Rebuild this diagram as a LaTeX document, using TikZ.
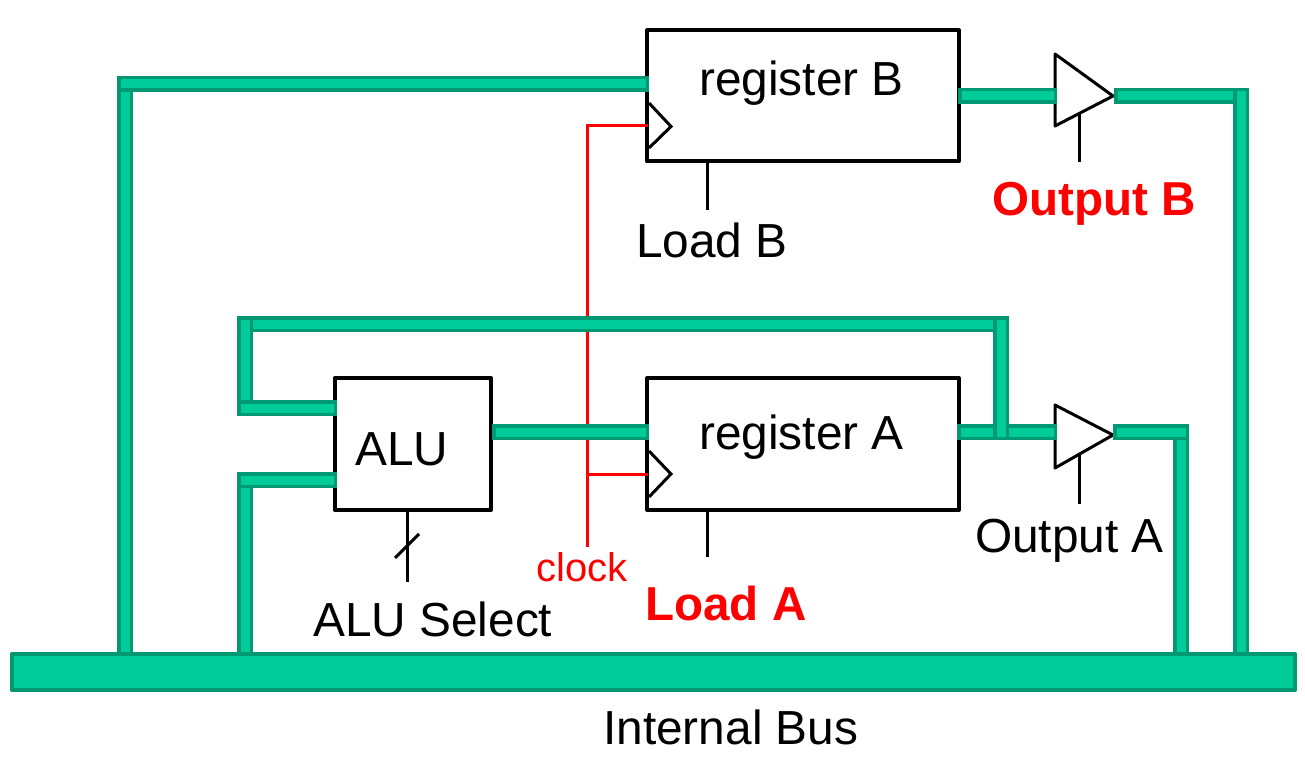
\documentclass[tikz,border=0pt]{standalone}
\usepackage{fontspec}
\setmainfont{Liberation Sans}
\definecolor{wirefill}{HTML}{00CC99}
\definecolor{wireedge}{HTML}{009973}
\definecolor{sigred}{HTML}{FF0000}
\tikzset{
  block/.style={draw=black,fill=white,line width=4pt,line join=round,inner sep=0pt,minimum width=#1},
  wire/.style={draw=wireedge,line width=3.5pt,double=wirefill,double distance=9pt,line cap=rect,line join=miter},
  busbar/.style={draw=wireedge,fill=wirefill,line width=4pt,line join=round,inner sep=0pt,minimum width=1283.5pt,minimum height=36pt},
  ctl/.style={draw=black,line width=3pt},
  clk/.style={draw=sigred,line width=3pt},
  buffershape/.style={draw=black,fill=white,line width=3pt,line join=round},
  clocktri/.style={draw=black,line width=3pt,line join=miter},
  big/.style={inner sep=0pt,anchor=base west,font=\fontsize{47.8}{50}\selectfont},
  bigred/.style={inner sep=0pt,anchor=base west,text=sigred,font=\fontsize{47.6}{50}\selectfont\bfseries},
  small/.style={inner sep=0pt,anchor=base west,text=sigred,font=\fontsize{40}{44}\selectfont}
}
\begin{document}
\begin{tikzpicture}[x=1pt,y=-1pt]
\useasboundingbox (0,0) rectangle (1305,767);
% blocks
\node[block=312pt,minimum height=131pt] (regB) at (803,96) {};
\node[block=312pt,minimum height=132pt] (regA) at (803,444) {};
\node[block=156.5pt,minimum height=132pt] (alu) at (412.75,444) {};
% labels
\node[big] (tRegB) at (699,96) {register B};
\node[big] (tRegA) at (699,449) {register A};
\node[big] (tAlu) at (355,465) {ALU};
\node[big] (tLoadB) at (636,257) {Load B};
\node[big] (tOutA) at (975,552) {Output A};
\node[big] (tSel) at (313,636) {ALU Select};
\node[big] (tBus) at (603,744) {Internal Bus};
\node[bigred] (tOutB) at (992,216) {Output B};
\node[bigred] (tLoadA) at (645,620) {Load A};
\node[small] (tClock) at (536,581) {clock};
% named points
\coordinate (triBa) at (1055,54);
\coordinate (triBb) at (1113,96);
\coordinate (triBc) at (1055,126);
\coordinate (triAa) at (1055,405);
\coordinate (triAb) at (1113,435);
\coordinate (triAc) at (1055,468);
\coordinate (ckBa) at (649,103);
\coordinate (ckBb) at (671,126.5);
\coordinate (ckBc) at (649,148);
\coordinate (ckAa) at (649,451);
\coordinate (ckAb) at (671,474);
\coordinate (ckAc) at (649,497);
\coordinate (clkTop) at (587,126);
\coordinate (clkTap) at (587,474);
\coordinate (clkEnd) at (587,547);
\coordinate (ckBin) at (648,126);
\coordinate (ckAin) at (648,474);
\coordinate (lbA) at (707,163);
\coordinate (lbB) at (707,210);
\coordinate (laA) at (707,512);
\coordinate (laB) at (707,557);
\coordinate (obA) at (1079,114);
\coordinate (obB) at (1079,162);
\coordinate (oaA) at (1079,455);
\coordinate (oaB) at (1079,504);
\coordinate (selA) at (407,512);
\coordinate (selB) at (407,582);
\coordinate (slA) at (395,558);
\coordinate (slB) at (419,534);
% control lines
\draw[ctl] (lbA) -- (lbB);
\draw[ctl] (laA) -- (laB);
\draw[ctl] (obA) -- (obB);
\draw[ctl] (oaA) -- (oaB);
\draw[ctl] (selA) -- (selB);
\draw[ctl] (slA) -- (slB);
% clock
\draw[clk] (ckBin) -- (clkTop) -- (clkEnd);
\draw[clk] (clkTap) -- (ckAin);
\draw[clocktri] (ckBa) -- (ckBb) -- (ckBc);
\draw[clocktri] (ckAa) -- (ckAb) -- (ckAc);
% buffers
\draw[buffershape] (triBa) -- (triBb) -- (triBc) -- cycle;
\draw[buffershape] (triAa) -- (triAb) -- (triAc) -- cycle;
% wire points
\coordinate (w1c) at (125,84);
\coordinate (w1e) at (641,84);
\coordinate (w1b) at (125,662);
\coordinate (w2a) at (245,324);
\coordinate (w2b) at (1001,324);
\coordinate (w2c) at (245,408);
\coordinate (w2d) at (329,408);
\coordinate (w2e) at (1001,432);
\coordinate (w3a) at (245,480);
\coordinate (w3b) at (329,480);
\coordinate (w3c) at (245,662);
\coordinate (w4a) at (500,432);
\coordinate (w4b) at (641,432);
\coordinate (w5a) at (965,432);
\coordinate (w5b) at (1049,432);
\coordinate (w6a) at (1121,432);
\coordinate (w6b) at (1181,432);
\coordinate (w6c) at (1181,662);
\coordinate (w7a) at (966,96);
\coordinate (w7b) at (1049,96);
\coordinate (w8a) at (1122,96);
\coordinate (w8b) at (1241,96);
\coordinate (w8c) at (1241,662);
% wires
\draw[wire] (w1c) -- (w1b);
\draw[wire] (w1c) -- (w1e);
\draw[wire] (w2a) -- (w2b);
\draw[wire] (w2a) -- (w2c);
\draw[wire] (w2c) -- (w2d);
\draw[wire] (w3a) -- (w3c);
\draw[wire] (w3a) -- (w3b);
\draw[wire] (w4a) -- (w4b);
\draw[wire] (w5a) -- (w5b);
\draw[wire] (w2b) -- (w2e);
\draw[wire] (w6b) -- (w6c);
\draw[wire] (w6a) -- (w6b);
\draw[wire] (w7a) -- (w7b);
\draw[wire] (w8a) -- (w8b);
\draw[wire] (w8b) -- (w8c);
% bus
\node[busbar] (bus) at (653.25,672) {};
\end{tikzpicture}
\end{document}
